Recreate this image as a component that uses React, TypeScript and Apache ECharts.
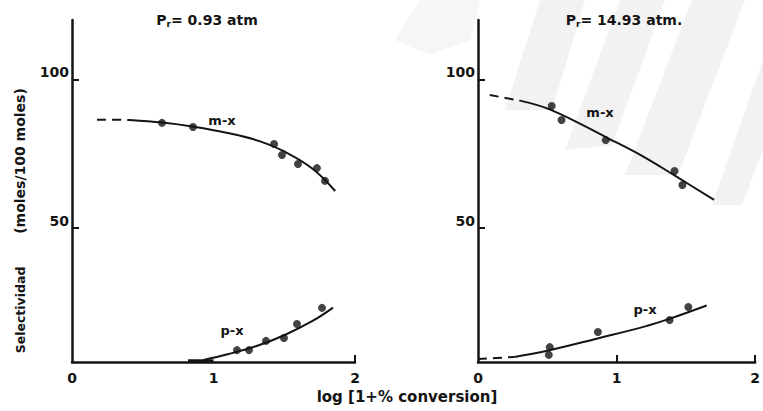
import React, { useEffect, useRef } from "react";
import * as echarts from "echarts";

// ---- tick labels ----
const xTickLabels = [0, 1, 2];
const yTickLabels = [50, 100];
const leftXTicks = [2];
const rightXTicks = [1, 2];

// ---- left panel (Pr = 0.93 atm) ----
const leftMxPoints: [number, number][] = [
  [0.636, 85.4], [0.855, 84.0], [1.428, 78.3], [1.484, 74.6], [1.597, 71.6], [1.731, 70.2], [1.788, 65.9],
];
const leftMxCurve: [number, number][] = [
  [0.41, 86.4], [0.64, 85.5], [0.86, 84.1], [1.1, 82.0], [1.33, 79.2], [1.5, 75.8], [1.7, 70.0], [1.86, 62.5],
];
const leftMxDash: [number, number][] = [[0.177, 86.5], [0.41, 86.4]];
const leftPxPoints: [number, number][] = [
  [1.166, 9.0], [1.251, 9.0], [1.371, 12.1], [1.498, 13.1], [1.59, 17.8], [1.767, 23.2],
];
const leftPxCurve: [number, number][] = [
  [0.93, 5.7], [1.1, 7.6], [1.3, 10.3], [1.5, 14.0], [1.7, 18.8], [1.845, 23.3],
];
const leftPxBase: [number, number][] = [[0.82, 5.4], [1.0, 5.4]];

// ---- right panel (Pr = 14.93 atm) ----
const rightMxPoints: [number, number][] = [
  [0.532, 91.1], [0.603, 86.4], [0.922, 79.6], [1.418, 69.2], [1.475, 64.5],
];
const rightMxCurve: [number, number][] = [
  [0.31, 92.8], [0.53, 89.7], [0.936, 80.3], [1.196, 74.0], [1.433, 67.3], [1.704, 59.5],
];
const rightMxDash: [number, number][] = [[0.085, 94.8], [0.31, 92.8]];
const rightPxPoints: [number, number][] = [
  [0.511, 7.4], [0.518, 10.0], [0.865, 15.1], [1.383, 19.1], [1.518, 23.5],
];
const rightPxCurve: [number, number][] = [
  [0.262, 6.7], [0.5, 8.8], [0.87, 13.0], [1.2, 16.9], [1.38, 19.5], [1.65, 24.0],
];
const rightPxDash: [number, number][] = [[0.0, 6.0], [0.262, 6.7]];

const INK = "#141414";
const FONT = "DejaVu Sans";

function xAxis(i: number, ticks: number[]) {
  return {
    type: "value",
    gridIndex: i,
    min: 0,
    max: 2,
    axisLine: { show: true, onZero: false, lineStyle: { color: INK, width: 2.5 } },
    axisTick: { show: true, inside: true, length: 7, customValues: ticks, lineStyle: { color: INK, width: 2 } },
    axisLabel: { customValues: xTickLabels, fontSize: 14, fontWeight: "bold", color: INK, margin: 9, fontFamily: FONT },
    splitLine: { show: false },
  };
}
function yAxis(i: number) {
  return {
    type: "value",
    gridIndex: i,
    min: 5,
    max: 120,
    axisLine: { show: true, onZero: false, lineStyle: { color: INK, width: 2.5 } },
    axisTick: { show: true, inside: true, length: 7, customValues: yTickLabels, lineStyle: { color: INK, width: 2 } },
    axisLabel: { customValues: yTickLabels, fontSize: 14, fontWeight: "bold", color: INK, margin: 3, verticalAlign: "bottom", fontFamily: FONT },
    splitLine: { show: false },
  };
}
function curve(data: [number, number][], i: number, dashed = false, width = 2) {
  return {
    type: "line",
    xAxisIndex: i,
    yAxisIndex: i,
    data,
    smooth: 0.4,
    symbol: "none",
    silent: true,
    lineStyle: { color: INK, width, type: dashed ? [9, 6] : "solid" },
  };
}
function points(data: [number, number][], i: number) {
  return {
    type: "scatter",
    xAxisIndex: i,
    yAxisIndex: i,
    data,
    symbol: "circle",
    symbolSize: 8,
    itemStyle: { color: INK },
    z: 4,
  };
}

function title(text: string, x: number) {
  return {
    type: "text",
    x,
    y: 20,
    style: {
      text: `{p|P}{s|r}{p|= ${text}}`,
      align: "center",
      verticalAlign: "middle",
      rich: {
        p: { fontSize: 14, fontWeight: "bold", fontFamily: FONT, fill: INK },
        s: { fontSize: 9, fontWeight: "bold", fontFamily: FONT, fill: INK, padding: [8, 0, 0, 0] },
      },
    },
  };
}
function label(text: string, x: number, y: number) {
  return {
    type: "text",
    x,
    y,
    style: { text, align: "center", verticalAlign: "middle", fontSize: 13, fontWeight: "bold", fontFamily: FONT, fill: INK },
  };
}
function wm(points: number[][], fill = "#f2f2f2") {
  return { type: "polygon", z: -10, silent: true, shape: { points }, style: { fill } };
}

export default function App() {
  const ref = useRef<HTMLDivElement>(null);
  useEffect(() => {
    const chart = echarts.init(ref.current!, null, { renderer: "svg" });
    chart.setOption({
      animation: false,
      backgroundColor: "#ffffff",
      grid: [
        { left: 72, top: 20, width: 283, height: 342 },
        { left: 478, top: 20, width: 282, height: 342 },
      ],
      xAxis: [xAxis(0, leftXTicks), xAxis(1, rightXTicks)],
      yAxis: [yAxis(0), yAxis(1)],
      series: [
        curve(leftMxCurve, 0),
        curve(leftMxDash, 0, true),
        points(leftMxPoints, 0),
        curve(leftPxCurve, 0),
        curve(leftPxBase, 0, false, 3),
        points(leftPxPoints, 0),
        curve(rightMxCurve, 1),
        curve(rightMxDash, 1, true),
        points(rightMxPoints, 1),
        curve(rightPxCurve, 1),
        curve(rightPxDash, 1, true),
        points(rightPxPoints, 1),
      ],
      graphic: [
        wm([[420, 0], [480, 0], [470, 40], [430, 55], [395, 40]], "#f6f6f6"),
        wm([[505, 110], [540, 0], [585, 0], [552, 110]]),
        wm([[565, 150], [620, 0], [665, 0], [612, 145]]),
        wm([[625, 175], [692, 0], [745, 0], [678, 175]]),
        wm([[712, 205], [763, 60], [763, 150], [742, 205]]),
        title("0.93 atm", 207),
        title("14.93 atm.", 624),
        label("m-x", 222, 120),
        label("p-x", 232, 330),
        label("m-x", 600, 112),
        label("p-x", 645, 309),
        {
          type: "text",
          x: 407,
          y: 397,
          style: { text: "log [1+% conversion]", align: "center", verticalAlign: "middle", fontSize: 15, fontWeight: "bold", fontFamily: FONT, fill: INK },
        },
        {
          type: "text",
          x: 20,
          y: 310,
          rotation: Math.PI / 2,
          style: { text: "Selectividad", align: "center", verticalAlign: "middle", fontSize: 12.5, fontWeight: "bold", fontFamily: FONT, fill: INK },
        },
        {
          type: "text",
          x: 20,
          y: 161,
          rotation: Math.PI / 2,
          style: { text: "(moles/100 moles)", align: "center", verticalAlign: "middle", fontSize: 14, fontWeight: "bold", fontFamily: FONT, fill: INK },
        },
      ],
    });
    return () => chart.dispose();
  }, []);
  return <div ref={ref} style={{ position: "fixed", left: 0, top: 0, width: 763, height: 411 }} />;
}
